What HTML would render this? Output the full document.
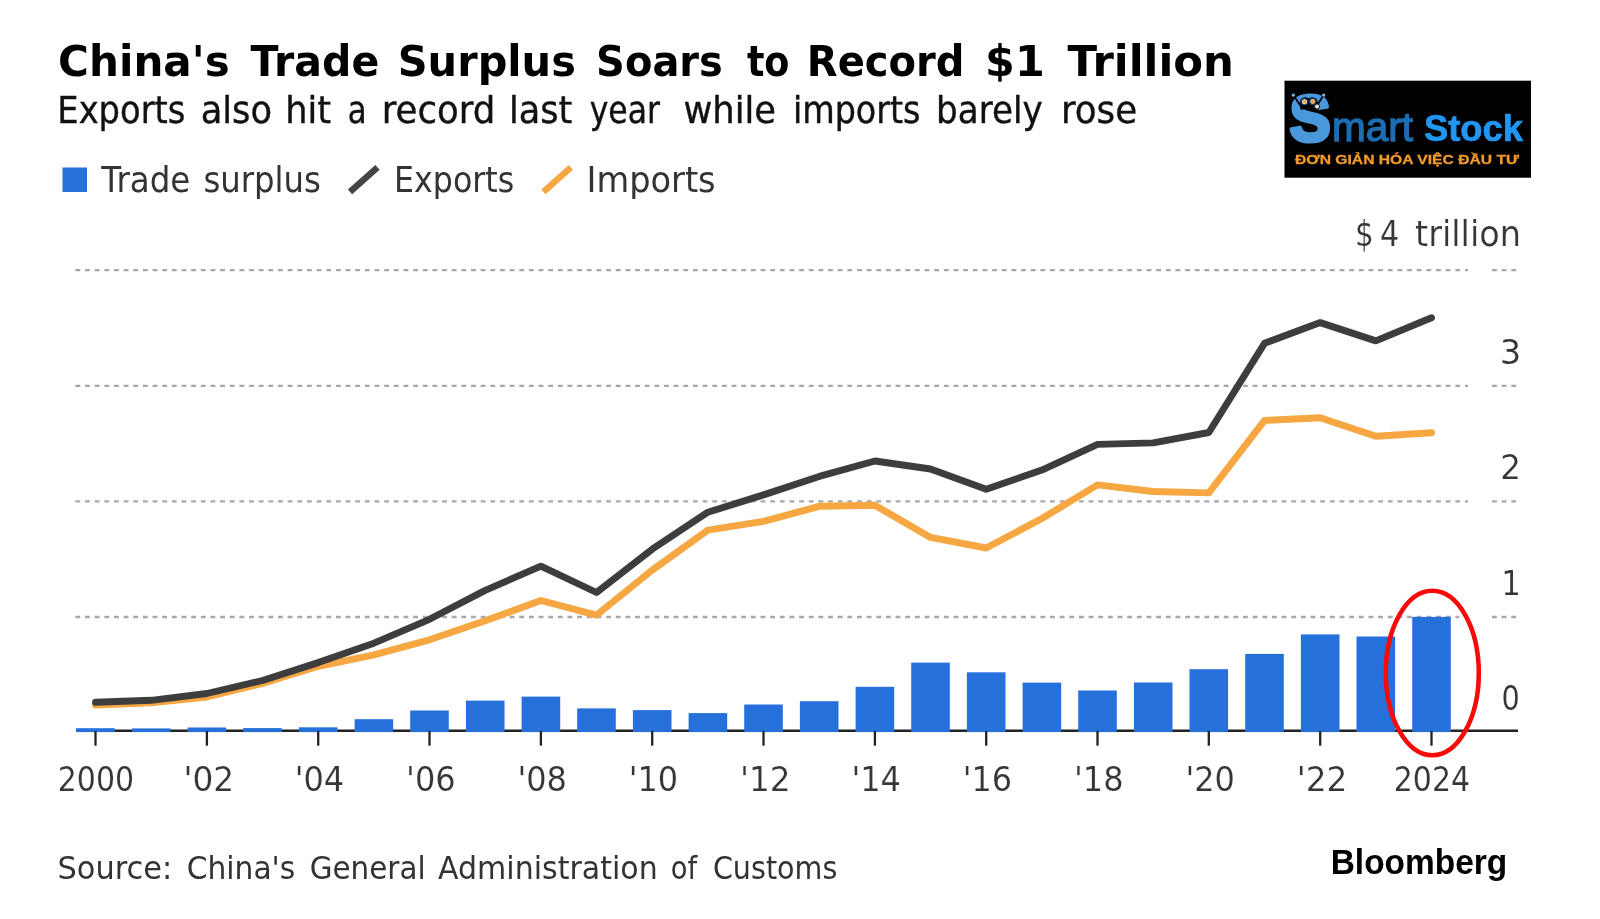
<!DOCTYPE html>
<html lang="en"><head><meta charset="utf-8"><title>China's Trade Surplus Soars to Record $1 Trillion</title>
<style>
html,body{margin:0;padding:0;background:#fff;}
body{width:1600px;height:919px;overflow:hidden;font-family:"DejaVu Sans","Liberation Sans",sans-serif;}
svg{display:block;filter:blur(0.4px)}
.t{font-family:"DejaVu Sans","Liberation Sans",sans-serif;}
.c{font-family:"DejaVu Sans Condensed","DejaVu Sans","Liberation Sans",sans-serif;}
.l{font-family:"Liberation Sans",sans-serif;}
</style></head><body>
<svg width="1600" height="919" viewBox="0 0 1600 919">
<rect width="1600" height="919" fill="#fff"/>
<!-- headline -->
<text class="t" y="75.6" font-size="43" font-weight="bold" fill="#000"><tspan x="58.1" textLength="171.6" lengthAdjust="spacingAndGlyphs">China's</tspan> <tspan x="250.6" textLength="128.7" lengthAdjust="spacingAndGlyphs">Trade</tspan> <tspan x="397.7" textLength="178.2" lengthAdjust="spacingAndGlyphs">Surplus</tspan> <tspan x="596.1" textLength="126.8" lengthAdjust="spacingAndGlyphs">Soars</tspan> <tspan x="746.9" textLength="42.6" lengthAdjust="spacingAndGlyphs">to</tspan> <tspan x="806.8" textLength="157.7" lengthAdjust="spacingAndGlyphs">Record</tspan> <tspan x="985.1" textLength="59.7" lengthAdjust="spacingAndGlyphs">$1</tspan> <tspan x="1067.6" textLength="166.4" lengthAdjust="spacingAndGlyphs">Trillion</tspan></text>
<text class="t" y="122.6" font-size="36.8" fill="#111" stroke="#111" stroke-width="0.4"><tspan x="57.3" textLength="128.1" lengthAdjust="spacingAndGlyphs">Exports</tspan> <tspan x="200.7" textLength="71.4" lengthAdjust="spacingAndGlyphs">also</tspan> <tspan x="285.2" textLength="45.8" lengthAdjust="spacingAndGlyphs">hit</tspan> <tspan x="347.7" textLength="18.9" lengthAdjust="spacingAndGlyphs">a</tspan> <tspan x="381.7" textLength="113.7" lengthAdjust="spacingAndGlyphs">record</tspan> <tspan x="509.0" textLength="63.3" lengthAdjust="spacingAndGlyphs">last</tspan> <tspan x="589.7" textLength="70.2" lengthAdjust="spacingAndGlyphs">year</tspan> <tspan x="683.4" textLength="92.6" lengthAdjust="spacingAndGlyphs">while</tspan> <tspan x="792.9" textLength="127.6" lengthAdjust="spacingAndGlyphs">imports</tspan> <tspan x="936.1" textLength="106.6" lengthAdjust="spacingAndGlyphs">barely</tspan> <tspan x="1060.9" textLength="76.3" lengthAdjust="spacingAndGlyphs">rose</tspan></text>
<!-- legend -->
<rect x="62.5" y="167.5" width="24.5" height="24.5" fill="#2670dc"/>
<g class="t" font-size="35" fill="#333">
<text y="192"><tspan x="101.3" textLength="89.1" lengthAdjust="spacingAndGlyphs">Trade</tspan> <tspan x="203.4" textLength="117.6" lengthAdjust="spacingAndGlyphs">surplus</tspan></text>
<text y="192"><tspan x="394.1" textLength="120.1" lengthAdjust="spacingAndGlyphs">Exports</tspan></text>
<text y="192"><tspan x="586.5" textLength="129.1" lengthAdjust="spacingAndGlyphs">Imports</tspan></text>
</g>
<path d="M350 191.9L377.5 167.4" stroke="#444" stroke-width="6.5" fill="none"/>
<path d="M543.4 191.9L570.9 167.4" stroke="#f6a741" stroke-width="6.5" fill="none"/>
<!-- grid -->
<g stroke="#a8a8a8" stroke-width="2.3" stroke-dasharray="4.8 4.85" fill="none"><path d="M75.4 270.2H1468M1492 270.2H1518"/><path d="M75.4 385.8H1468M1492 385.8H1518"/><path d="M75.4 501.4H1468M1492 501.4H1518"/><path d="M75.4 617H1459M1492 617H1518"/></g>
<!-- axis -->
<path d="M76 730.8H1518" stroke="#222" stroke-width="2.5" fill="none"/>
<!-- bars -->
<g fill="#2670dc"><rect x="76.2" y="728.2" width="38.6" height="3.9"/><rect x="131.9" y="728.4" width="38.6" height="3.7"/><rect x="187.6" y="727.5" width="38.6" height="4.6"/><rect x="243.2" y="728.1" width="38.6" height="4.0"/><rect x="298.9" y="727.3" width="38.6" height="4.8"/><rect x="354.6" y="719.2" width="38.6" height="12.9"/><rect x="410.2" y="710.5" width="38.6" height="21.6"/><rect x="465.9" y="700.6" width="38.6" height="31.5"/><rect x="521.6" y="696.6" width="38.6" height="35.5"/><rect x="577.2" y="708.4" width="38.6" height="23.7"/><rect x="632.9" y="710.1" width="38.6" height="22.0"/><rect x="688.6" y="713.1" width="38.6" height="19.0"/><rect x="744.2" y="704.5" width="38.6" height="27.6"/><rect x="799.9" y="701.2" width="38.6" height="30.9"/><rect x="855.6" y="686.8" width="38.6" height="45.3"/><rect x="911.2" y="662.6" width="38.6" height="69.5"/><rect x="966.9" y="672.3" width="38.6" height="59.8"/><rect x="1022.6" y="682.6" width="38.6" height="49.5"/><rect x="1078.2" y="690.5" width="38.6" height="41.6"/><rect x="1133.9" y="682.5" width="38.6" height="49.6"/><rect x="1189.5" y="669.2" width="38.6" height="62.9"/><rect x="1245.2" y="653.9" width="38.6" height="78.2"/><rect x="1300.9" y="634.4" width="38.6" height="97.7"/><rect x="1356.5" y="636.5" width="38.6" height="95.6"/><rect x="1412.2" y="616.9" width="38.6" height="115.2"/></g>
<g stroke="#222" stroke-width="2.3" fill="none"><path d="M95.5 731V745.7"/><path d="M206.9 731V745.7"/><path d="M318.2 731V745.7"/><path d="M429.5 731V745.7"/><path d="M540.9 731V745.7"/><path d="M652.2 731V745.7"/><path d="M763.5 731V745.7"/><path d="M874.9 731V745.7"/><path d="M986.2 731V745.7"/><path d="M1097.5 731V745.7"/><path d="M1208.8 731V745.7"/><path d="M1320.2 731V745.7"/><path d="M1431.5 731V745.7"/></g>
<!-- lines -->
<polyline points="95.5,705.1 151.2,702.9 206.9,697.0 262.5,683.4 318.2,666.3 373.9,654.9 429.5,639.8 485.2,620.8 540.9,600.5 596.5,615.1 652.2,570.1 707.9,530.1 763.5,521.4 819.2,506.3 874.9,505.2 930.5,537.4 986.2,548.0 1041.9,518.5 1097.5,484.9 1153.2,491.5 1208.8,492.9 1264.5,420.4 1320.2,417.8 1375.8,436.3 1431.5,432.8" fill="none" stroke="#f6a741" stroke-width="6.9" stroke-linejoin="round" stroke-linecap="round"/>
<polyline points="95.5,702.3 151.2,700.3 206.9,693.5 262.5,680.5 318.2,662.6 373.9,643.2 429.5,619.3 485.2,590.4 540.9,566.1 596.5,592.5 652.2,549.2 707.9,512.2 763.5,494.9 819.2,476.4 874.9,461.0 930.5,469.0 986.2,489.3 1041.9,470.1 1097.5,444.4 1153.2,442.9 1208.8,432.5 1264.5,343.3 1320.2,322.6 1375.8,340.9 1431.5,317.7" fill="none" stroke="#3d3d3d" stroke-width="6.9" stroke-linejoin="round" stroke-linecap="round"/>
<!-- axis labels -->
<text class="c" y="791" font-size="34.2" fill="#363636" stroke="#fff" stroke-width="0.15"><tspan x="57.8" textLength="76.3" lengthAdjust="spacingAndGlyphs">2000</tspan> <tspan x="183.4" textLength="50.7" lengthAdjust="spacingAndGlyphs">'02</tspan> <tspan x="294.7" textLength="49.5" lengthAdjust="spacingAndGlyphs">'04</tspan> <tspan x="406.1" textLength="49.5" lengthAdjust="spacingAndGlyphs">'06</tspan> <tspan x="517.4" textLength="49.5" lengthAdjust="spacingAndGlyphs">'08</tspan> <tspan x="628.7" textLength="49.5" lengthAdjust="spacingAndGlyphs">'10</tspan> <tspan x="740.0" textLength="50.7" lengthAdjust="spacingAndGlyphs">'12</tspan> <tspan x="851.4" textLength="49.5" lengthAdjust="spacingAndGlyphs">'14</tspan> <tspan x="962.7" textLength="49.5" lengthAdjust="spacingAndGlyphs">'16</tspan> <tspan x="1074.0" textLength="49.5" lengthAdjust="spacingAndGlyphs">'18</tspan> <tspan x="1185.4" textLength="49.5" lengthAdjust="spacingAndGlyphs">'20</tspan> <tspan x="1296.7" textLength="50.7" lengthAdjust="spacingAndGlyphs">'22</tspan> <tspan x="1393.8" textLength="76.3" lengthAdjust="spacingAndGlyphs">2024</tspan></text>
<g class="c" font-size="33.5" fill="#363636" stroke="#fff" stroke-width="0.15">
<text><tspan y="364"><tspan x="1499.7" textLength="21.5" lengthAdjust="spacingAndGlyphs">3</tspan></tspan> <tspan y="478.6"><tspan x="1500.2" textLength="20.8" lengthAdjust="spacingAndGlyphs">2</tspan></tspan> <tspan y="595"><tspan x="1501.3" textLength="19.6" lengthAdjust="spacingAndGlyphs">1</tspan></tspan> <tspan y="710"><tspan x="1501.5" textLength="18.3" lengthAdjust="spacingAndGlyphs">0</tspan></tspan></text>
<text y="246.3" font-size="34.8"><tspan x="1355.0" textLength="18.7" lengthAdjust="spacingAndGlyphs">$</tspan> <tspan x="1380.1" textLength="19.1" lengthAdjust="spacingAndGlyphs">4</tspan> <tspan x="1415.1" textLength="105.8" lengthAdjust="spacingAndGlyphs">trillion</tspan></text></g>
<!-- highlight -->
<ellipse cx="1432.3" cy="673" rx="46.5" ry="82.3" fill="none" stroke="#f60a0a" stroke-width="4.6"/>
<!-- footer -->
<text class="t" y="878.7" font-size="32.5" fill="#333"><tspan x="57.5" textLength="114.7" lengthAdjust="spacingAndGlyphs">Source:</tspan> <tspan x="186.7" textLength="108.6" lengthAdjust="spacingAndGlyphs">China's</tspan> <tspan x="309.7" textLength="115.9" lengthAdjust="spacingAndGlyphs">General</tspan> <tspan x="438.0" textLength="219.8" lengthAdjust="spacingAndGlyphs">Administration</tspan> <tspan x="670.8" textLength="26.3" lengthAdjust="spacingAndGlyphs">of</tspan> <tspan x="712.9" textLength="124.5" lengthAdjust="spacingAndGlyphs">Customs</tspan></text>
<text class="l" y="873.9" font-size="35.6" font-weight="bold" fill="#000"><tspan x="1330.7" textLength="176.6" lengthAdjust="spacingAndGlyphs">Bloomberg</tspan></text>
<!-- logo -->
<g>
<rect x="1284.5" y="80.7" width="246.5" height="97" fill="#000"/>
<text class="l" x="1289.8" y="141.2" font-size="64.8" font-weight="bold" fill="#4a98dc" stroke="#4a98dc" stroke-width="4.2" stroke-linejoin="round" textLength="40.8" lengthAdjust="spacingAndGlyphs">S</text>
<path d="M1293.3 95.1L1300 105M1323.7 95.1L1317 105.5" stroke="#000" stroke-width="1.8" fill="none"/>
<path d="M1299.3 104.5L1300.8 99.3Q1304.5 95.8 1308.6 98.4Q1312.7 95.8 1316.6 99L1318.4 104L1319 109.6L1300.5 109.6Z" fill="#000"/>
<circle cx="1293.3" cy="95.1" r="1.7" fill="#7db4e8"/><circle cx="1323.7" cy="95.1" r="1.7" fill="#7db4e8"/>
<circle cx="1304.5" cy="101.8" r="3.7" fill="#173a66"/><circle cx="1304.5" cy="101.8" r="2.5" fill="#ffe3b5"/><circle cx="1304.5" cy="101.8" r="1.5" fill="#ff9416"/>
<circle cx="1312.7" cy="101.5" r="3.7" fill="#173a66"/><circle cx="1312.7" cy="101.5" r="2.4" fill="#f5c88c"/><circle cx="1312.7" cy="101.5" r="1.5" fill="#ff9c20"/>
<circle cx="1317" cy="106.6" r="2.9" fill="#10233d"/><circle cx="1317" cy="106.6" r="2" fill="#fbe0bd"/>
<text class="l" x="1332" y="141.3" font-size="40" fill="#1c6db3" stroke="#1c6db3" stroke-width="1.3" textLength="81" lengthAdjust="spacingAndGlyphs">mart</text>
<text class="l" x="1424" y="141" font-size="36" font-weight="bold" fill="#2196f3" stroke="#2196f3" stroke-width="0.7" textLength="99" lengthAdjust="spacingAndGlyphs">Stock</text>
<text class="l" x="1295" y="163.8" font-size="13.6" font-weight="bold" fill="#f39a2e" stroke="#f39a2e" stroke-width="0.3" textLength="224" lengthAdjust="spacingAndGlyphs">ĐƠN GIẢN HÓA VIỆC ĐẦU TƯ</text>
</g>
</svg>
</body></html>
